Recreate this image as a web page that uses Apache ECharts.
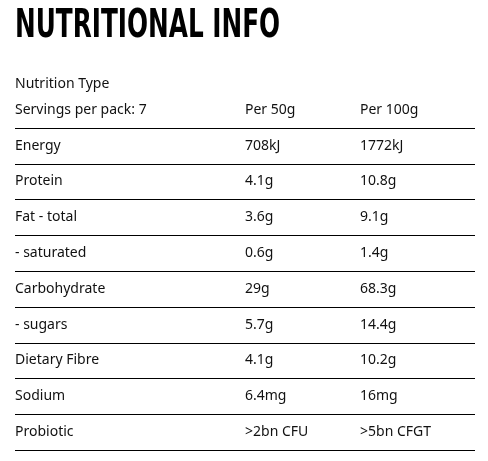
<!DOCTYPE html>
<html>
<head>
<meta charset="utf-8">
<script src="https://cdn.jsdelivr.net/npm/echarts@6/dist/echarts.min.js"></script>
<style>html,body{margin:0;padding:0;background:#fff}#chart{width:488px;height:461px}</style>
</head>
<body>
<div id="chart"></div>
<script>
var nutrients = ['Energy', 'Protein', 'Fat - total', '- saturated', 'Carbohydrate', '- sugars', 'Dietary Fibre', 'Sodium', 'Probiotic'];
var per50g = ['708kJ', '4.1g', '3.6g', '0.6g', '29g', '5.7g', '4.1g', '6.4mg', '>2bn CFU'];
var per100g = ['1772kJ', '10.8g', '9.1g', '1.4g', '68.3g', '14.4g', '10.2g', '16mg', '>5bn CFGT'];
var headers = ['Servings per pack: 7', 'Per 50g', 'Per 100g'];

var rows = ['header'].concat(nutrients);
var data = [headers].concat(nutrients.map(function (n, i) { return [n, per50g[i], per100g[i]]; }))
    .map(function (r, i) { return { value: [0, i], cells: r }; });

var chart = echarts.init(document.getElementById('chart'));
var colX = [15, 245, 360];
var font = '"Noto Sans", sans-serif';

chart.setOption({
    animation: false,
    graphic: [{
        type: 'text',
        x: 15, y: 27, scaleY: 1.45,
        style: {
            text: 'NUTRITIONAL INFO', textVerticalAlign: 'middle',
            fontFamily: '"DejaVu Sans Condensed", sans-serif', fontWeight: 'bold', fontSize: 27.5, fill: '#000'
        }
    }, {
        type: 'text',
        x: 15, y: 84,
        style: { text: 'Nutrition Type', textVerticalAlign: 'middle', fontFamily: font, fontSize: 14, fill: '#111' }
    }],
    grid: { left: 15, right: 13, top: 92, bottom: 11 },
    xAxis: { type: 'value', min: 0, max: 1, show: false },
    yAxis: { type: 'category', data: rows, inverse: true, show: false },
    series: [{
        type: 'custom',
        data: data,
        renderItem: function (params, api) {
            var p = api.coord([0, api.value(1)]);
            var size = api.size([0, 1]);
            var cells = data[params.dataIndex].cells;
            var lineY = Math.round(p[1] + size[1] / 2) + 0.5;
            var children = cells.map(function (t, j) {
                return {
                    type: 'text',
                    style: { text: t, x: colX[j], y: p[1], textVerticalAlign: 'middle', fontFamily: font, fontSize: 14, fill: '#111' }
                };
            });
            children.push({
                type: 'line',
                shape: { x1: 15, y1: lineY, x2: 475, y2: lineY },
                style: { stroke: '#000', lineWidth: 1 }
            });
            return { type: 'group', children: children };
        }
    }]
});
</script>
</body>
</html>
